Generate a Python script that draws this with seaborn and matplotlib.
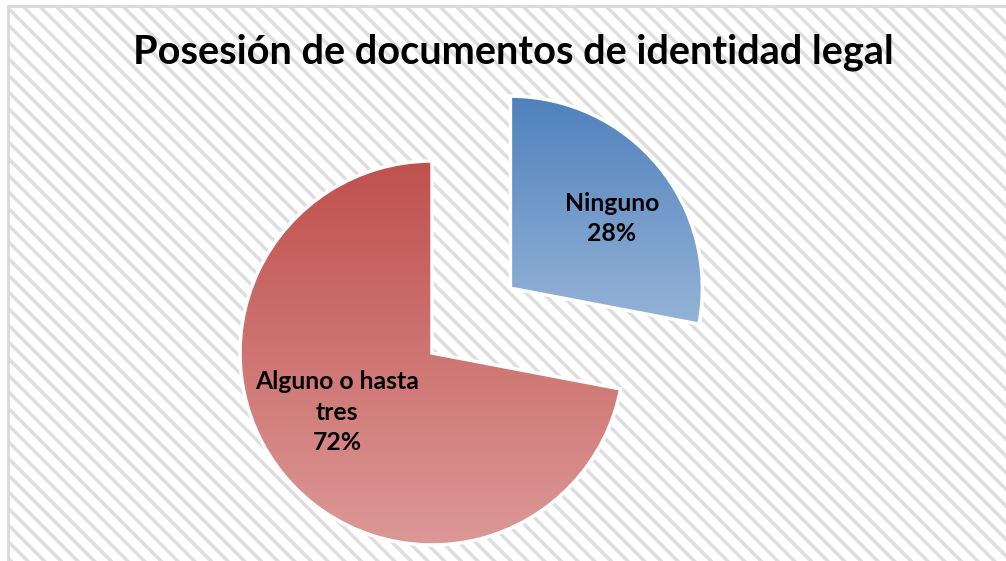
import numpy as np
import matplotlib
matplotlib.use("Agg")
import matplotlib.pyplot as plt
import seaborn as sns
from matplotlib.patches import Rectangle
from matplotlib.colors import LinearSegmentedColormap

# datos
categorias = ["Ninguno", "Alguno o hasta\ntres"]
porcentajes = [28, 72]
titulo = "Posesión de documentos de identidad legal"

colores_arriba = ["#4f81bd", "#c0504d"]
colores_abajo = ["#95b3d7", "#dc9997"]

sns.set_style("white")
plt.rcParams['font.family'] = ['Lato', 'DejaVu Sans']
plt.rcParams['hatch.linewidth'] = 2.5
plt.rcParams['text.color'] = 'black'

W, H = 1006, 561
fig = plt.figure(figsize=(W / 100, H / 100), dpi=100)
fig.patch.set_facecolor('white')

# fondo rayado y borde
fondo = Rectangle((8 / W, -0.02), 1.02, 1.02 - 6 / H, transform=fig.transFigure,
                  facecolor='white', edgecolor='#dedede', hatch='\\\\', linewidth=0, zorder=0)
fig.add_artist(fondo)
borde = Rectangle((8 / W, -0.02), 1.02, 1.02 - 6 / H, transform=fig.transFigure,
                  facecolor='none', edgecolor='#d9d9d9', linewidth=2, zorder=1)
fig.add_artist(borde)

ax = fig.add_axes([0, 0, 1, 1])
ax.patch.set_alpha(0)

radio_px = 192
cx, cy = 432, 353

wedges, _ = ax.pie(porcentajes, explode=[0.53, 0], startangle=90, counterclock=False,
                   colors=colores_arriba,
                   wedgeprops=dict(edgecolor='white', linewidth=2.5))

# degradado vertical dentro de cada sector
for w, c1, c2 in zip(wedges, colores_arriba, colores_abajo):
    verts = w.get_path().vertices
    x0, x1 = verts[:, 0].min(), verts[:, 0].max()
    y0, y1 = verts[:, 1].min(), verts[:, 1].max()
    cmap = LinearSegmentedColormap.from_list("g", [c2, c1])
    grad = np.linspace(0, 1, 256).reshape(-1, 1)
    im = ax.imshow(grad, extent=(x0, x1, y0, y1), origin='lower', cmap=cmap,
                   aspect='auto', zorder=2)
    im.set_clip_path(w)
    w.set_facecolor('none')
    w.set_zorder(3)

# etiquetas
desplaz = [(0.035, -0.045), (0.0, 0.10)]
for w, cat, val, (dx, dy) in zip(wedges, categorias, porcentajes, desplaz):
    ang = np.deg2rad((w.theta1 + w.theta2) / 2)
    x = w.center[0] + 0.64 * np.cos(ang) + dx
    y = w.center[1] + 0.64 * np.sin(ang) + dy
    ax.text(x, y, f"{cat}\n{val}%", ha='center', va='center', fontsize=17.8,
            fontweight='bold', color='black', linespacing=1.4, zorder=4)

ax.set_xlim(-cx / radio_px, (W - cx) / radio_px)
ax.set_ylim(-(H - cy) / radio_px, cy / radio_px)
ax.set_aspect('auto')
ax.axis('off')

fig.text(513 / W, 1 - 52 / H, titulo, ha='center', va='center', fontsize=28.5,
         fontweight='bold', color='black')

plt.savefig("out.png", dpi=100)
plt.close()
